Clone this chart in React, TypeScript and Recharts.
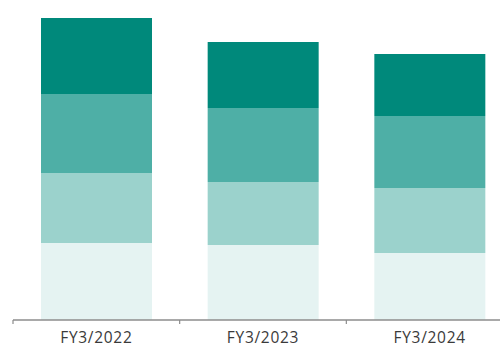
import React from 'react';
import { BarChart, Bar, XAxis, YAxis } from 'recharts';

const categories = ['FY3/2022', 'FY3/2023', 'FY3/2024'];
// stacked segments, bottom to top (relative units)
const seg1 = [77, 75, 67];
const seg2 = [70, 63, 65];
const seg3 = [79, 74, 72];
const seg4 = [76, 66, 62];

const data = categories.map((name, i) => ({
    name,
    s1: seg1[i],
    s2: seg2[i],
    s3: seg3[i],
    s4: seg4[i],
}));

const CHART_W = 520;
const MARGIN = { top: 18, right: 7, left: 13, bottom: 0 };

const BoundaryTick = (props: any) => {
    const { x, y, payload } = props;
    const half = payload?.offset || (CHART_W - MARGIN.left - MARGIN.right) / categories.length / 2;
    return (
        <g>
            <line x1={x - half} y1={y - 8} x2={x - half} y2={y - 4} stroke="#8c8c8c" strokeWidth={1.2} />
            <text x={x} y={y + 15} textAnchor="middle" fill="#3a3a3a" fontSize={15.5} fontFamily="'Open Sans', sans-serif" letterSpacing={0.7}>
                {payload.value}
            </text>
        </g>
    );
};

export default function App() {
    return (
        <div style={{ position: 'fixed', left: 0, top: 0, width: 500, height: 352, overflow: 'hidden', background: '#fff' }}>
            <BarChart width={CHART_W} height={352} data={data} margin={MARGIN} barSize={111}>
                <XAxis dataKey="name" height={32} axisLine={{ stroke: '#8c8c8c', strokeWidth: 1.5 }} tickLine={false} tick={<BoundaryTick />} interval={0} />
                <YAxis hide domain={[0, 302]} />
                <Bar dataKey="s1" stackId="a" fill="#e5f3f2" isAnimationActive={false} />
                <Bar dataKey="s2" stackId="a" fill="#9bd2cc" isAnimationActive={false} />
                <Bar dataKey="s3" stackId="a" fill="#4eafa6" isAnimationActive={false} />
                <Bar dataKey="s4" stackId="a" fill="#00897b" isAnimationActive={false} />
            </BarChart>
        </div>
    );
}
